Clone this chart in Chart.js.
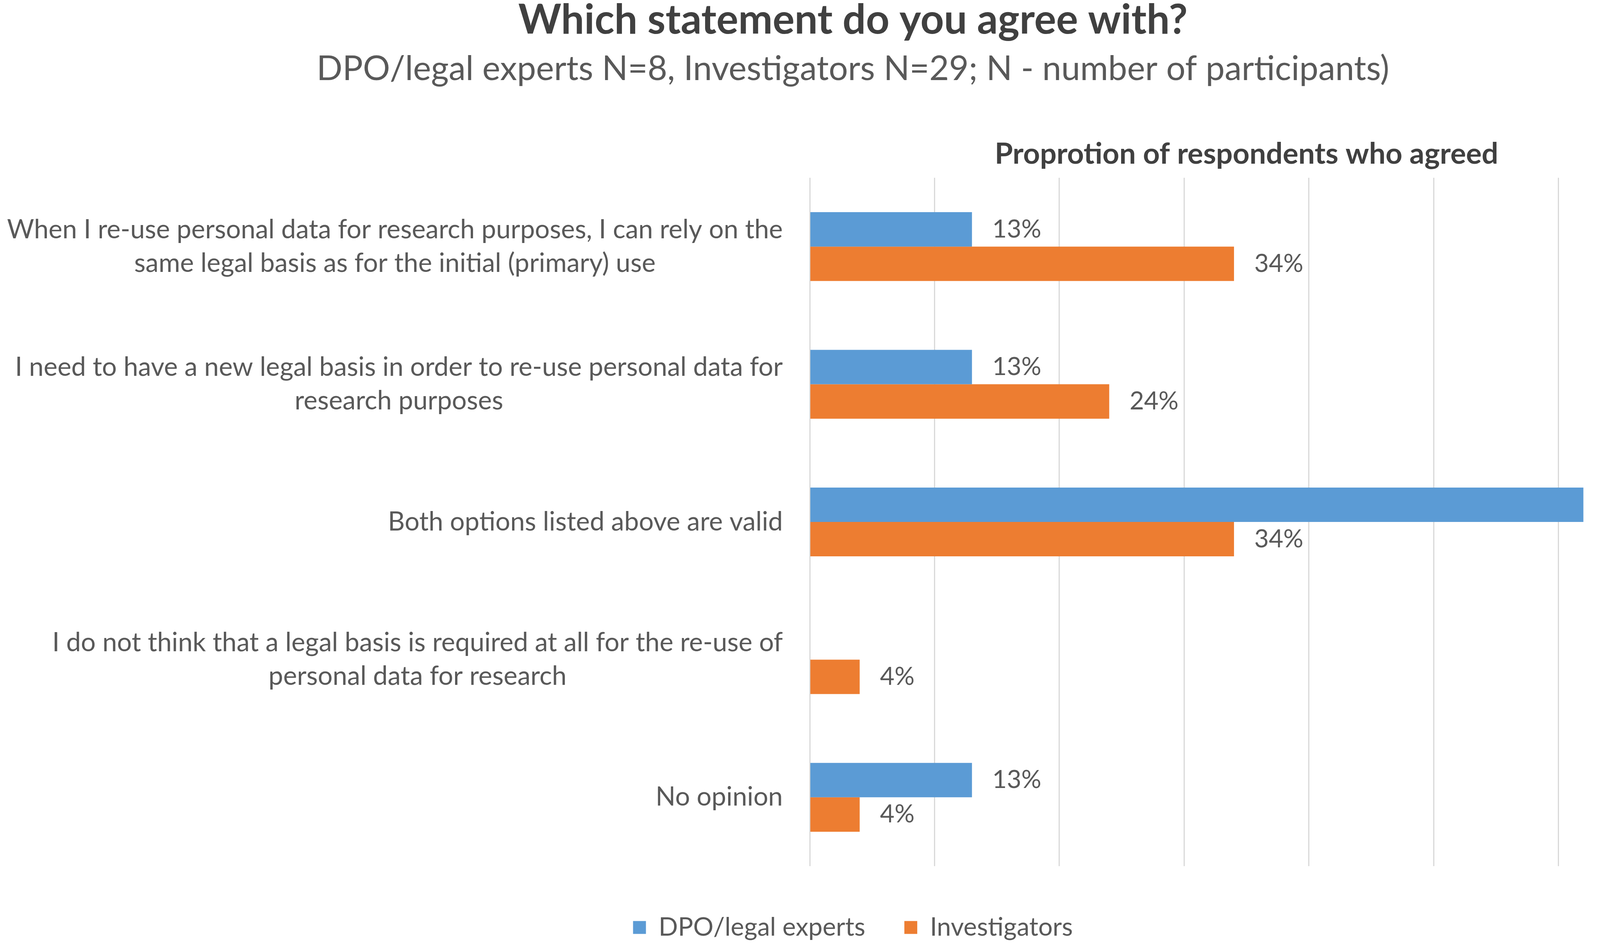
<!DOCTYPE html>
<html lang="en">
<head>
    <meta charset="UTF-8">
    <title>Which statement do you agree with?</title>
    <script src="https://cdn.jsdelivr.net/npm/chart.js@4.4.1/dist/chart.umd.min.js"></script>
    <style>
      body { margin: 0; background: #fff; }
      #wrap { width: 4328px; height: 2424px; }
    </style>
</head>
<body>
  <div id="wrap"><canvas id="chart"></canvas></div>
<script>
// statements, top to bottom
const categories = [
  ['When I re-use personal data for research purposes, I can rely on the', 'same legal basis as for the initial (primary) use'],
  ['I need to have a new legal basis in order to re-use personal data for', 'research purposes'],
  ['Both options listed above are valid'],
  ['I do not think that a legal basis is required at all for the re-use of', 'personal data for research'],
  ['No opinion']
]
const seriesNames = ['DPO/legal experts', 'Investigators']
const dpoValues = [13, 13, 62, null, 13]
const investigatorValues = [34, 24, 34, 4, 4]
const axisMax = 70

const FONT = "Lato, 'Open Sans', sans-serif"
const textGrey = '#595959'

// draws the statement labels: block right aligned, lines centred inside it
const statementLabels = {
  id: 'statementLabels',
  afterDraw(chart) {
    const ctx = chart.ctx
    const yScale = chart.scales.y
    const lineH = 86
    ctx.save()
    ctx.font = '67px ' + FONT
    ctx.fillStyle = textGrey
    ctx.textAlign = 'center'
    ctx.textBaseline = 'middle'
    categories.forEach((lines, i) => {
      const blockW = Math.max(...lines.map(l => ctx.measureText(l).width))
      const cx = yScale.right - 69 - blockW / 2
      const cy = yScale.getPixelForTick(i)
      lines.forEach((l, j) => {
        ctx.fillText(l, cx, cy + (j - (lines.length - 1) / 2) * lineH)
      })
    })
    ctx.restore()
  }
}

// value labels at the end of each bar
const valueLabels = {
  id: 'valueLabels',
  afterDatasetsDraw(chart) {
    const ctx = chart.ctx
    ctx.save()
    ctx.font = '64px ' + FONT
    ctx.fillStyle = textGrey
    ctx.textAlign = 'left'
    ctx.textBaseline = 'middle'
    chart.data.datasets.forEach((ds, i) => {
      chart.getDatasetMeta(i).data.forEach((bar, j) => {
        const v = ds.data[j]
        if (v === null) return
        ctx.fillText(v + '%', bar.x + 52, bar.y)
      })
    })
    ctx.restore()
  }
}

const ctx = document.getElementById('chart').getContext('2d')
const myChart = new Chart(ctx, {
  type: 'bar',
  data: {
    labels: categories,
    datasets: [{
      label: seriesNames[0],
      data: dpoValues,
      backgroundColor: '#5B9BD5',
      categoryPercentage: 0.5,
      barPercentage: 1.0
    }, {
      label: seriesNames[1],
      data: investigatorValues,
      backgroundColor: '#ED7D31',
      categoryPercentage: 0.5,
      barPercentage: 1.0
    }]
  },
  options: {
    indexAxis: 'y',
    responsive: true,
    maintainAspectRatio: false,
    devicePixelRatio: 1,
    animation: false,
    layout: { padding: { left: 58, right: 19, top: 0, bottom: 7.5 } },
    scales: {
      x: {
        position: 'top',
        min: 0,
        max: axisMax,
        ticks: { display: false, stepSize: 10 },
        grid: { color: '#D9D9D9', lineWidth: 3, drawTicks: false },
        border: { display: false },
        title: {
          display: true,
          text: 'Proprotion of respondents who agreed',
          color: '#404040',
          font: { family: FONT, size: 75, weight: 'bold', lineHeight: 1.0 },
          padding: { top: 0, bottom: 22.5 }
        }
      },
      y: {
        ticks: { display: false },
        grid: { display: false },
        border: { display: false },
        afterFit(scale) { scale.width = 2015 }
      }
    },
    plugins: {
      title: {
        display: true,
        text: 'Which statement do you agree with?',
        color: '#404040',
        font: { family: FONT, size: 105, weight: 'bold', lineHeight: 1.0 },
        padding: { top: 0, bottom: 28.5 }
      },
      subtitle: {
        display: true,
        text: 'DPO/legal experts N=8, Investigators N=29; N - number of participants)',
        color: textGrey,
        font: { family: FONT, size: 87, lineHeight: 1.0 },
        padding: { top: 0, bottom: 137 }
      },
      legend: {
        position: 'bottom',
        title: { display: true, text: ' ', font: { size: 10 }, padding: { top: 12.5, bottom: 0 } },
        labels: {
          color: textGrey,
          font: { family: FONT, size: 65 },
          boxWidth: 33,
          boxHeight: 33,
          padding: 100
        }
      },
      tooltip: { enabled: false }
    }
  },
  plugins: [statementLabels, valueLabels]
})
</script>
</body>
</html>
